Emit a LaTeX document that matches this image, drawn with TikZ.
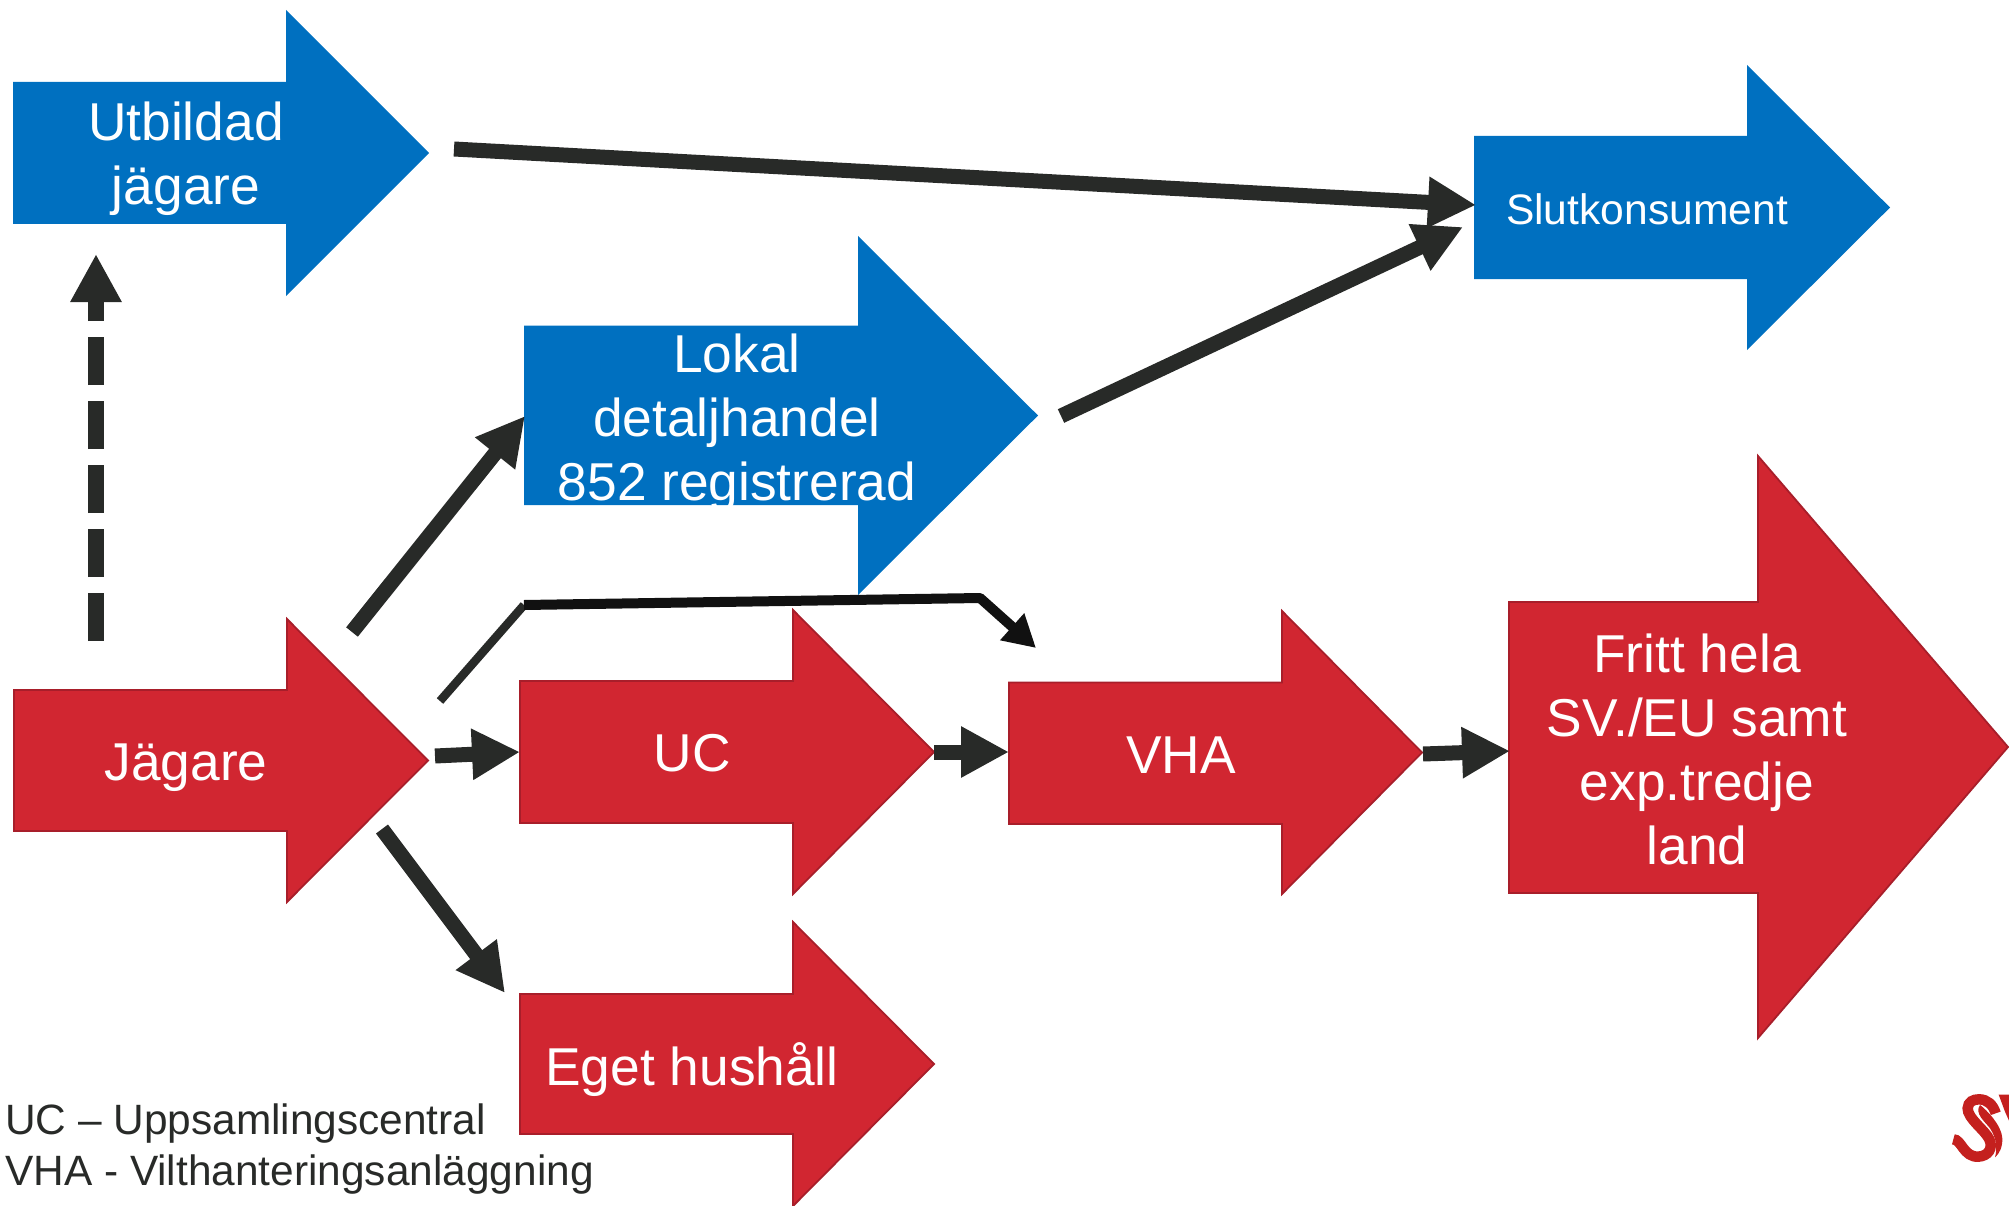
\documentclass[tikz,border=0pt]{standalone}
\usepackage{fontspec}
\setmainfont{Liberation Sans}
\usetikzlibrary{arrows.meta}
\definecolor{blueA}{HTML}{0070C0}
\definecolor{redA}{HTML}{D12631}
\definecolor{redB}{HTML}{A81E2A}
\definecolor{lineA}{HTML}{282A28}
\definecolor{lineB}{HTML}{111111}
\definecolor{logoA}{HTML}{C4201E}
\tikzset{
  blueshape/.style={fill=blueA},
  redshape/.style={fill=redA,draw=redB,line width=1.8pt,line join=miter},
  big/.style={font=\fontsize{53.3}{64}\selectfont,text=white,align=center,anchor=base,inner sep=0pt},
  mid/.style={font=\fontsize{42.6}{51}\selectfont,text=white,anchor=base,inner sep=0pt},
  legend/.style={font=\fontsize{42.4}{51}\selectfont,text=lineA,anchor=base west,inner sep=0pt},
  conn/.style={draw=lineA,line width=15pt,-{Triangle[length=48pt,width=48pt]}},
  dashconn/.style={draw=lineA,line width=16pt,dash pattern=on 48pt off 16pt,-{Triangle[length=48pt,width=48pt]}},
}
% style, left, bodytop, bodybottom, neck, tip, headtop, headbottom
\newcommand{\blockarrow}[8]{\path[#1] (#2,#3) -- (#5,#3) -- (#5,#7) -- (#6,{(#7+#8)/2}) -- (#5,#8) -- (#5,#4) -- (#2,#4) -- cycle;}
\begin{document}
\begin{tikzpicture}[x=1pt,y=-1pt]
\useasboundingbox (0,0) rectangle (2009,1206);
\blockarrow{blueshape}{13}{82}{224}{286}{429}{10}{296}
\blockarrow{blueshape}{1474}{136}{279}{1747}{1890}{65}{350}
\blockarrow{blueshape}{524}{325.5}{505}{858}{1038}{236}{595}
\blockarrow{redshape}{14}{690}{831}{287}{428}{619}{902}
\blockarrow{redshape}{520}{681}{823}{793}{934}{610}{894}
\blockarrow{redshape}{1009}{682.5}{824}{1282}{1422}{611}{894}
\blockarrow{redshape}{1509}{602}{893}{1758}{2008}{456}{1038}
\blockarrow{redshape}{520}{994}{1134}{793}{934}{922}{1206}

\node[big] (utb) at (186,141) {Utbildad};
\node[big] (utb2) at (186,205) {jägare};
\node[big] (lok) at (737,372) {Lokal};
\node[big] (lok2) at (737,436) {detaljhandel};
\node[big] (lok3) at (737,500) {852 registrerad};
\node[mid] (slut) at (1647,225) {Slutkonsument};
\node[big] (jag) at (186,780) {Jägare};
\node[big] (uc) at (692,771) {UC};
\node[big] (vha) at (1181,773) {VHA};
\node[big] (fr) at (1697,672) {Fritt hela};
\node[big] (fr2) at (1697,736) {SV./EU samt};
\node[big] (fr3) at (1697,800) {exp.tredje};
\node[big] (fr4) at (1697,864) {land};
\node[big] (eget) at (692,1085) {Eget hushåll};
\node[legend] (lega) at (5,1134) {UC – Uppsamlingscentral};
\node[legend] (legb) at (5,1185) {VHA - Vilthanteringsanläggning};

\coordinate (utbE) at (454,149);
\coordinate (slutW) at (1476,205);
\coordinate (lokE) at (1061,416);
\coordinate (slutSW) at (1463,227);
\coordinate (jagN) at (96,641);
\coordinate (utbS) at (96,254);
\coordinate (jagNE) at (352,632);
\coordinate (lokW) at (525,416);
\coordinate (jagE) at (435,756);
\coordinate (ucW) at (520,752);
\coordinate (ucE) at (934,752);
\coordinate (vhaW) at (1009,752);
\coordinate (vhaE) at (1423,754);
\coordinate (frW) at (1510,751);
\coordinate (jagSE) at (382,829);
\coordinate (egetNW) at (505,993);
\coordinate (jagNE2) at (440,701);
\coordinate (bendA) at (524,605);
\coordinate (bendB) at (980,598);
\coordinate (vhaNW) at (1036,648);

\draw[conn] (utbE) -- (slutW);
\draw[conn] (lokE) -- (slutSW);
\draw[dashconn] (jagN) -- (utbS);
\draw[conn] (jagNE) -- (lokW);
\draw[conn] (jagE) -- (ucW);
\draw[conn] (ucE) -- (vhaW);
\draw[conn] (vhaE) -- (frW);
\draw[conn] (jagSE) -- (egetNW);
\draw[draw=lineA,line width=8.5pt] (jagNE2) -- (bendA);
\draw[draw=lineB,line width=10pt,line join=bevel,-{Triangle[length=32pt,width=34pt]}] (bendA) -- (bendB) -- (vhaNW);

\begin{scope}[shift={(1900,1070)},x=0.3333pt,y=-0.3333pt]
\draw[logoA,line width=10.5pt] (160,208) .. controls (185,208) and (190,262) .. (235,260) .. controls (265,258) and (280,235) .. (268,208) .. controls (255,180) and (202,145) .. (203,115) .. controls (204,95) and (220,88) .. (237,88) .. controls (262,88) and (280,105) .. (287,130);
\fill[logoA] (240,105) .. controls (258,118) and (305,165) .. (307,205) .. controls (308,230) and (298,252) .. (285,262) .. controls (292,235) and (290,205) .. (270,175) .. controls (255,155) and (222,130) .. (240,105) -- cycle;
\fill[logoA] (296,74) -- (327,74) -- (327,152) -- (315,125) -- cycle;
\end{scope}
\end{tikzpicture}
\end{document}
